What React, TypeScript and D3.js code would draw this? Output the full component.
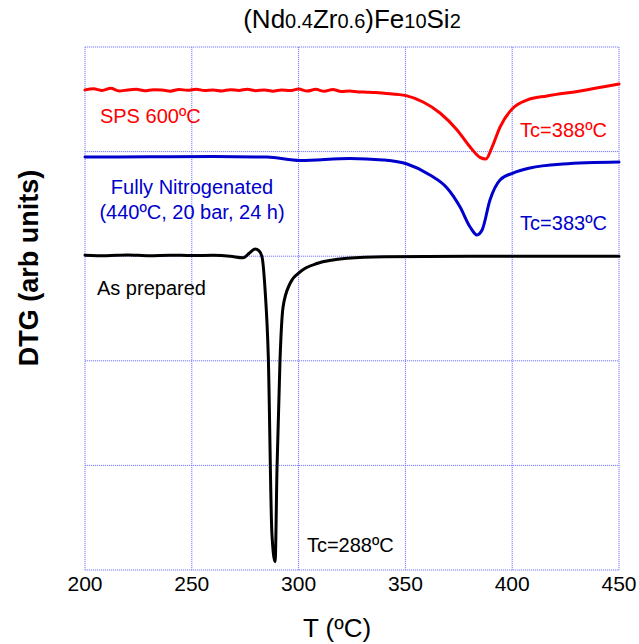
import React from "react";
import * as d3 from "d3";

const W = 639;
const H = 644;
const margin = { left: 85, right: 20, top: 47, bottom: 74 };

const xTicks = [200, 250, 300, 350, 400, 450];
const yGrid = [0, 1, 2, 3, 4, 5];

const titleParts = [
  { t: "(Nd", sub: false },
  { t: "0.4", sub: true },
  { t: "Zr", sub: false },
  { t: "0.6", sub: true },
  { t: ")Fe", sub: false },
  { t: "10", sub: true },
  { t: "Si", sub: false },
  { t: "2", sub: true },
];

// SPS 600ºC (red)
const redT = [200, 204, 208, 212, 216, 220, 224, 228, 232, 236, 240, 244, 248, 252, 256, 260, 264, 268, 272, 276, 280, 284, 288, 292, 296, 300, 304, 308, 312, 316, 320, 324, 328, 332, 336, 340, 350.3, 358.3, 366.2, 374.2, 380.3, 384.9, 387.7, 390.6, 394.3, 400.4, 406.9, 416.3, 431.8, 450];
const redV = [4.59, 4.6, 4.585, 4.605, 4.58, 4.59, 4.595, 4.582, 4.592, 4.588, 4.578, 4.594, 4.586, 4.597, 4.583, 4.59, 4.58, 4.592, 4.585, 4.596, 4.582, 4.589, 4.578, 4.59, 4.583, 4.598, 4.579, 4.595, 4.577, 4.593, 4.575, 4.58, 4.57, 4.568, 4.565, 4.558, 4.535, 4.474, 4.369, 4.207, 4.044, 3.945, 3.929, 4.044, 4.235, 4.417, 4.493, 4.532, 4.58, 4.646];

// Fully Nitrogenated (blue)
const blueT = [200, 230, 260, 285.2, 300.7, 324.1, 339.5, 350.8, 361.5, 369.5, 375.6, 380.3, 383.5, 385.9, 389.6, 394.3, 400.4, 408.3, 423.8, 450];
const blueV = [3.948, 3.95, 3.952, 3.948, 3.915, 3.935, 3.92, 3.881, 3.776, 3.652, 3.47, 3.279, 3.203, 3.25, 3.537, 3.728, 3.795, 3.843, 3.881, 3.9];

// As prepared (black)
const blackT = [200, 210, 220, 230, 240, 250, 260, 268, 274, 277, 279.6, 281.5, 282.9, 284.3, 285.8, 287.5, 289.0, 289.9, 291.3, 292.7, 296.0, 300.7, 308.6, 322.7, 340, 380, 420, 450];
const blackV = [3.01, 3.005, 3.012, 3.004, 3.01, 3.006, 3.008, 3.0, 2.985, 3.03, 3.068, 3.05, 2.99, 2.68, 2.05, 0.35, 0.08, 0.98, 2.01, 2.51, 2.74, 2.85, 2.93, 2.98, 2.995, 3.0, 3.0, 3.0];

const series = [
  { name: "SPS 600ºC", color: "#ff0000", T: redT, V: redV },
  { name: "Fully Nitrogenated", color: "#0000cc", T: blueT, V: blueV },
  { name: "As prepared", color: "#000000", T: blackT, V: blackV },
];

const labels = [
  { lines: ["SPS 600ºC"], color: "#ff0000", T: 207, V: 4.27, anchor: "start" },
  { lines: ["Tc=388ºC"], color: "#ff0000", T: 403.7, V: 4.14, anchor: "start" },
  { lines: ["Fully Nitrogenated", "(440ºC, 20 bar, 24 h)"], color: "#0000cc", T: 250.1, V: 3.595, anchor: "middle" },
  { lines: ["Tc=383ºC"], color: "#0000cc", T: 403.7, V: 3.25, anchor: "start" },
  { lines: ["As prepared"], color: "#000000", T: 205.6, V: 2.63, anchor: "start" },
  { lines: ["Tc=288ºC"], color: "#000000", T: 303.9, V: 0.17, anchor: "start" },
];

const FONT = "'Liberation Sans', Arial, Helvetica, sans-serif";

export default function App() {
  const x = d3.scaleLinear().domain([200, 450]).range([margin.left, W - margin.right]);
  const y = d3.scaleLinear().domain([0, 5]).range([H - margin.bottom, margin.top]);
  const line = d3
    .line<[number, number]>()
    .x((d) => x(d[0]))
    .y((d) => y(d[1]))
    .curve(d3.curveMonotoneX);
  const gridColor = "#7878ff";
  const x0 = x(200), x1 = x(450), y0 = y(0), y1 = y(5);
  return (
    <svg width={W} height={H} style={{ position: "absolute", left: 0, top: 0, background: "#fff" }} fontFamily={FONT}>
      <rect x={0} y={0} width={W} height={H} fill="#fff" />
      {xTicks.map((t) => (
        <line key={"gx" + t} x1={x(t)} x2={x(t)} y1={y0} y2={y1} stroke={gridColor} strokeWidth={1} strokeDasharray="1.2 0.8" />
      ))}
      {yGrid.map((v) => (
        <line key={"gy" + v} x1={x0} x2={x1} y1={y(v)} y2={y(v)} stroke={gridColor} strokeWidth={1} strokeDasharray="1.2 0.8" />
      ))}
      {xTicks.map((t) => (
        <text key={"tx" + t} x={x(t)} y={y0 + 21} textAnchor="middle" fontSize={21} fill="#000">
          {t}
        </text>
      ))}
      {series.map((s) => (
        <path key={s.name} d={line(s.T.map((t, i) => [t, s.V[i]] as [number, number])) || ""} fill="none" stroke={s.color} strokeWidth={3} strokeLinejoin="round" strokeLinecap="round" />
      ))}
      {labels.map((l, i) => (
        <text key={"l" + i} x={x(l.T)} y={y(l.V)} textAnchor={l.anchor as any} fontSize={20} fill={l.color}>
          {l.lines.map((ln, j) => (
            <tspan key={j} x={x(l.T)} dy={j === 0 ? 0 : 25}>
              {ln}
            </tspan>
          ))}
        </text>
      ))}
      <text x={(x0 + x1) / 2} y={28} textAnchor="middle" fontSize={26} fill="#000">
        {titleParts.map((p, i) => (
          <tspan key={i} fontSize={p.sub ? 20 : 26}>
            {p.t}
          </tspan>
        ))}
      </text>
      <text x={337} y={637} textAnchor="middle" fontSize={26} fill="#000">
        T (ºC)
      </text>
      <text transform={`translate(38, 268) rotate(-90)`} textAnchor="middle" fontSize={27} fontWeight="bold" fill="#000">
        DTG (arb units)
      </text>
    </svg>
  );
}
